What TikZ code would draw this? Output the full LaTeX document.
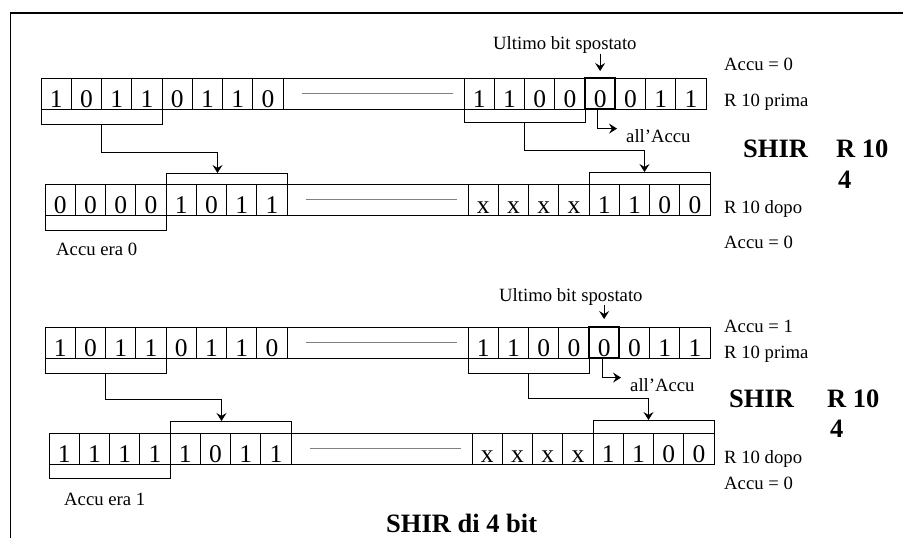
\documentclass[tikz,border=0pt]{standalone}
\usepackage{fontspec}
\setmainfont{Liberation Serif}
\usetikzlibrary{positioning, arrows.meta}

\begin{document}
\begin{tikzpicture}[
  x=1pt, y=-1pt,
  font=\fontsize{18.7}{21}\selectfont,
  cell/.style={draw, line width=0.8pt, minimum width=30.25pt, minimum height=31pt,
    inner sep=0pt, outer sep=0pt, text height=27pt, text depth=0pt,
    font=\fontsize{25.5}{27}\selectfont},
  gapbox/.style={draw, line width=0.8pt, minimum width=181pt, minimum height=31pt,
    inner sep=0pt, outer sep=0pt},
  lab/.style={anchor=base west, inner sep=0pt},
  big/.style={lab, font=\bfseries\fontsize{26.5}{28}\selectfont},
  bracket/.style={line width=0.8pt},
  flow/.style={-{Stealth[length=8pt, width=10pt, inset=3pt]}, line width=0.8pt},
  lastbit/.style={line width=1.8pt}
]
\useasboundingbox (0,0) rectangle (903,538);
\draw[line width=1.4pt] (10.5,538) -- (10.5,13) -- (903,13);
% --- registri: prima / dopo, due esempi ---
\foreach \r/\L/\Y/\bits in {a/41/93.5/{1,0,1,1,0,1,1,0,1,1,0,0,0,0,1,1},
                            b/45/199.5/{0,0,0,0,1,0,1,1,x,x,x,x,1,1,0,0},
                            c/45/342.5/{1,0,1,1,0,1,1,0,1,1,0,0,0,0,1,1},
                            d/49/448.5/{1,1,1,1,1,0,1,1,x,x,x,x,1,1,0,0}}{
  \foreach \b [count=\i] in \bits {
    \pgfmathsetmacro\cx{\L + 30.25*(\i-0.5) + 181*(\i>8)}
    \node[cell] (\r\i) at (\cx,\Y) {\b};
  }
  \node[gapbox] (g\r) at (\L+332.5,\Y) {};
  \draw[gray, line width=0.6pt] ([xshift=19pt]g\r.west) -- ([xshift=-11pt]g\r.east);
}
\draw[lastbit] (a13.north west) rectangle (a13.south east);
\draw[lastbit] (c13.north west) rectangle (c13.south east);
% --- primo esempio (Accu = 0) ---
\draw[bracket] (a1.south west) -- ([yshift=-15pt]a1.south west) -- coordinate (ka1) ([yshift=-15pt]a4.south east) -- (a4.south east);
\draw[bracket] (a9.south west) -- ([yshift=-13pt]a9.south west) -- coordinate (ka2) ([yshift=-13pt]a12.south east) -- (a12.south east);
\draw[bracket] (b5.north west) -- ([yshift=11pt]b5.north west) -- coordinate (kb1) ([yshift=11pt]b8.north east) -- (b8.north east);
\draw[bracket] (b13.north west) -- ([yshift=12pt]b13.north west) -- coordinate (kb2) ([yshift=12pt]b16.north east) -- (b16.north east);
\draw[bracket] (b1.south west) -- ([yshift=-15pt]b1.south west) -| (b4.south east);
\draw[flow] (ka1) -- ++(0,28) -| ([xshift=-9pt]kb1);
\draw[flow] (ka2) -- ++(0,28) -| ([xshift=-5pt]kb2);
\node[lab] (ult1) at (493,49.5) {Ultimo bit spostato};
\draw[flow] (ult1.south -| a13.north) -- ([yshift=7pt]a13.north);
\node[lab] (acc1) at (626,142) {all'Accu};
\draw[flow] ([xshift=-3pt]a13.south) |- ([xshift=-9pt,yshift=7pt]acc1.west);
\node[lab] (accp1) at (724,70) {Accu = 0};
\node[lab] (rp1) at (724,106) {R 10 prima};
\node[big] (shir1) at (743,157) {SHIR};
\node[big] (r1) at (836,157) {R 10};
\node[big] (n1) at (838,188) {4};
\node[lab] (rd1) at (724,213) {R 10 dopo};
\node[lab] (accd1) at (724,248) {Accu = 0};
\node[lab] (era1) at (56,255) {Accu era 0};
% --- secondo esempio (Accu = 1) ---
\draw[bracket] (c1.south west) -- ([yshift=-15pt]c1.south west) -- coordinate (kc1) ([yshift=-15pt]c4.south east) -- (c4.south east);
\draw[bracket] (c9.south west) -- ([yshift=-15pt]c9.south west) -- coordinate (kc2) ([yshift=-15pt]c12.south east) -- (c12.south east);
\draw[bracket] (d5.north west) -- ([yshift=12pt]d5.north west) -- coordinate (kd1) ([yshift=12pt]d8.north east) -- (d8.north east);
\draw[bracket] (d13.north west) -- ([yshift=13pt]d13.north west) -- coordinate (kd2) ([yshift=13pt]d16.north east) -- (d16.north east);
\draw[bracket] (d1.south west) -- ([yshift=-14pt]d1.south west) -| (d4.south east);
\draw[flow] (kc1) -- ++(0,26) -| ([xshift=-9pt]kd1);
\draw[flow] (kc2) -- ++(0,25) -| ([xshift=-5pt]kd2);
\node[lab] (ult2) at (499,301) {Ultimo bit spostato};
\draw[flow] (ult2.south -| c13.north) -- ([yshift=8pt]c13.north);
\node[lab] (acc2) at (630,391) {all'Accu};
\draw[flow] ([xshift=-2pt]c13.south) |- ([xshift=-9pt,yshift=7pt]acc2.west);
\node[lab] (accp2) at (724,332) {Accu = 1};
\node[lab] (rp2) at (724,358) {R 10 prima};
\node[big] (shir2) at (729,407) {SHIR};
\node[big] (r2) at (827,407) {R 10};
\node[big] (n2) at (830,437) {4};
\node[lab] (rd2) at (724,463) {R 10 dopo};
\node[lab] (accd2) at (724,489) {Accu = 0};
\node[lab] (era2) at (64,505) {Accu era 1};
\node[big] (tit) at (386,532) {SHIR di 4 bit};
\end{tikzpicture}
\end{document}
